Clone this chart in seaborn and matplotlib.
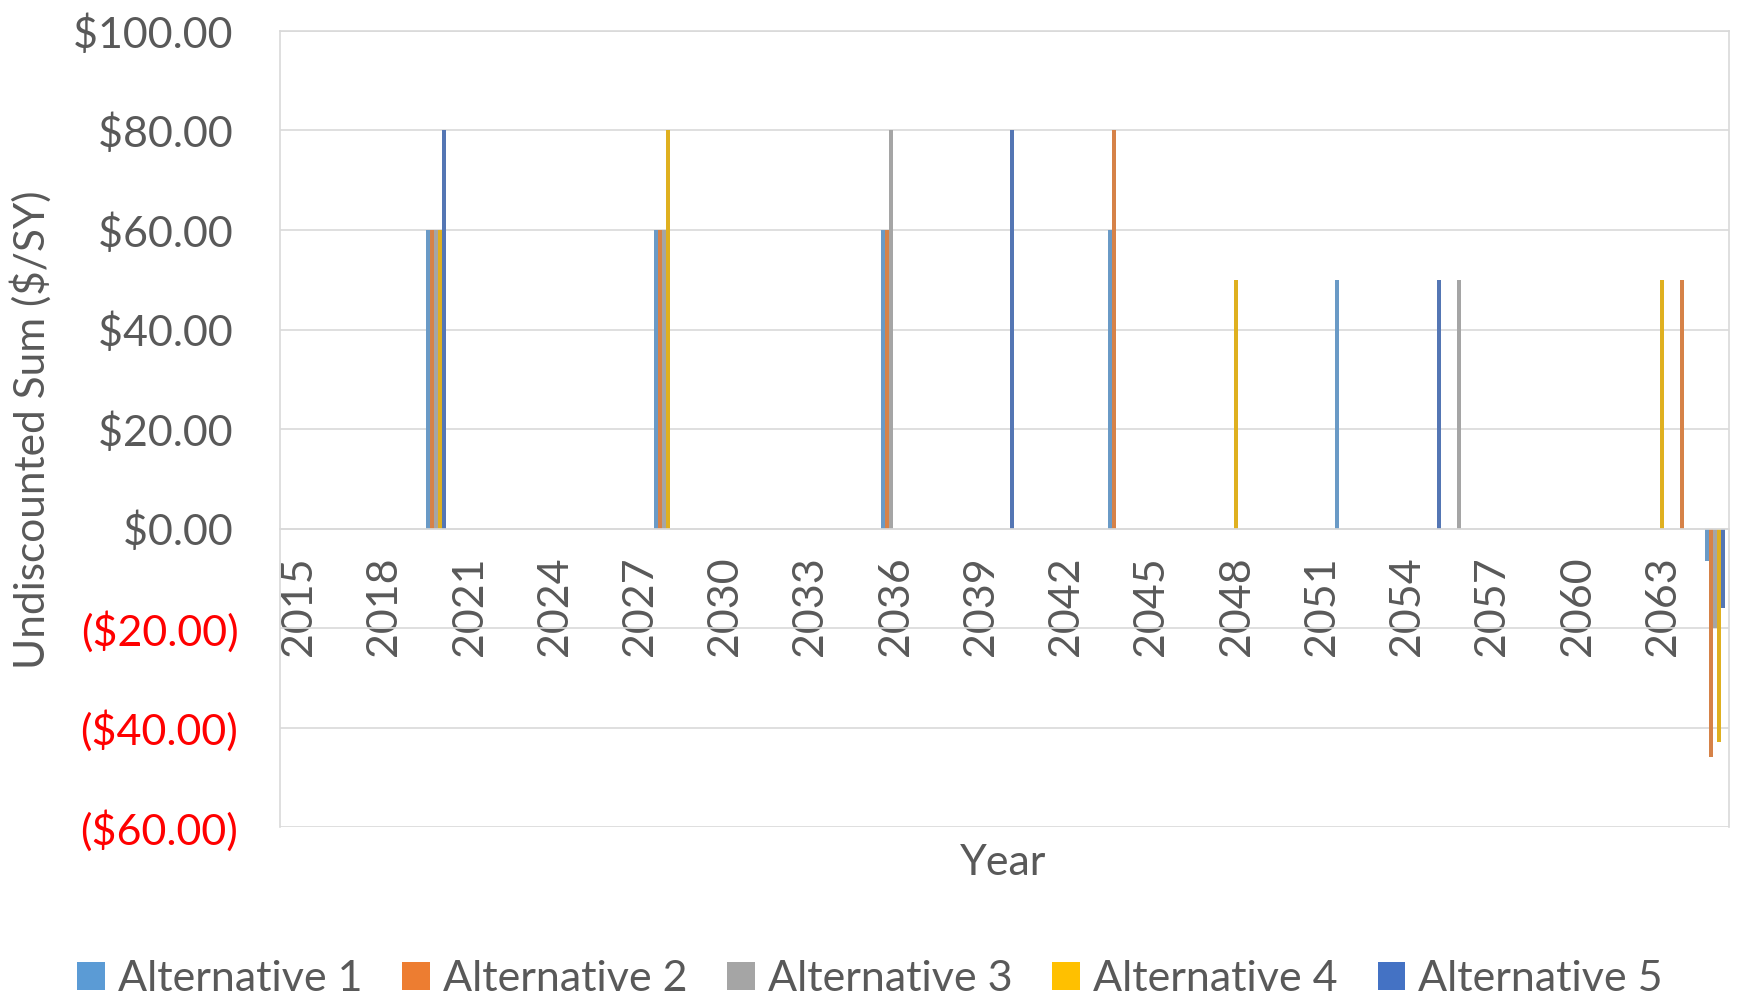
import matplotlib
matplotlib.use("Agg")
import matplotlib.pyplot as plt
from matplotlib.patches import Patch
import pandas as pd
import seaborn as sns

# Analysis period, one category per year
years = list(range(2015, 2066))
tick_years = years[::3]

series_names = ["Alternative 1", "Alternative 2", "Alternative 3",
                "Alternative 4", "Alternative 5"]
series_colors = ["#5B9BD5", "#ED7D31", "#A5A5A5", "#FFC000", "#4472C4"]

# Non-zero undiscounted costs ($/SY) per alternative
alt1_years = [2020, 2028, 2036, 2044, 2052, 2065]
alt1_values = [60, 60, 60, 60, 50, -6.5]

alt2_years = [2020, 2028, 2036, 2044, 2064, 2065]
alt2_values = [60, 60, 60, 80, 50, -46]

alt3_years = [2020, 2028, 2036, 2056, 2065]
alt3_values = [60, 60, 80, 50, -20]

alt4_years = [2020, 2028, 2048, 2063, 2065]
alt4_values = [60, 80, 50, 50, -43]

alt5_years = [2020, 2040, 2055, 2065]
alt5_values = [80, 80, 50, -16]

y_ticks = [-60, -40, -20, 0, 20, 40, 60, 80, 100]

# Long-form table: every alternative gets a value (zero if no cost) each year
sparse = [
    (alt1_years, alt1_values),
    (alt2_years, alt2_values),
    (alt3_years, alt3_values),
    (alt4_years, alt4_values),
    (alt5_years, alt5_values),
]
rows = []
for name, (yrs, vals) in zip(series_names, sparse):
    lookup = dict(zip(yrs, vals))
    for y in years:
        rows.append({"Year": y, "Series": name, "Value": lookup.get(y, 0.0)})
df = pd.DataFrame(rows)

sns.set_style("white")
plt.rcParams["font.family"] = ["Lato", "DejaVu Sans"]

TEXT = "#595959"
GRID = "#D9D9D9"
FS = 31

fig = plt.figure(figsize=(17.4, 9.96), dpi=100)
ax = fig.add_axes([280 / 1740, 1 - 827 / 996, 1449 / 1740, 796 / 996])

sns.barplot(data=df, x="Year", y="Value", hue="Series",
            order=years, hue_order=series_names, palette=series_colors,
            width=0.7, errorbar=None, linewidth=0, legend=False, ax=ax)

ax.set_xlim(-0.5, len(years) - 0.5)
ax.set_ylim(-60, 100)

# Accounting-style currency labels: negatives in parentheses and red,
# positives padded so the digits line up with the negatives
def money(v):
    return f"(${-v:,.2f})" if v < 0 else f"${v:,.2f}\u2009"

ax.set_yticks(y_ticks, labels=[money(v) for v in y_ticks])
for v, lab in zip(y_ticks, ax.get_yticklabels()):
    lab.set_color("#FF0000" if v < 0 else TEXT)

# Rotated year labels; a small offset centres the digit glyphs on the category
label_offset = 0.17
ax.set_xticks([years.index(y) + label_offset for y in tick_years],
              labels=[str(y) for y in tick_years])

ax.tick_params(axis="both", length=0, labelsize=FS)
ax.tick_params(axis="y", pad=30)
ax.tick_params(axis="x", pad=20, labelrotation=90, labelcolor=TEXT)

ax.yaxis.grid(True, color=GRID, linewidth=1.2)
ax.set_axisbelow(True)
ax.set_xlabel("")
ax.set_ylabel("")

for side in ["left", "right", "top", "bottom"]:
    ax.spines[side].set_color(GRID)
    ax.spines[side].set_linewidth(1.2)
    ax.spines[side].set_visible(True)
ax.spines["bottom"].set_position(("data", 0))

fig.text(31 / 1740, 1 - 430 / 996, "Undiscounted Sum ($/SY)", rotation=90,
         ha="center", va="center", color=TEXT, fontsize=30.5)
fig.text(1003 / 1740, 1 - 863 / 996, "Year", ha="center", va="center",
         color=TEXT, fontsize=FS)

handles = [Patch(facecolor=c, edgecolor="none") for c in series_colors]
fig.legend(handles, series_names, loc="center",
           bbox_to_anchor=(0.5, 1 - 979 / 996), ncol=5, frameon=False,
           fontsize=FS, labelcolor=TEXT, handlelength=0.64, handleheight=0.64,
           handletextpad=0.3, columnspacing=0.93, borderaxespad=0)

fig.savefig("out.png", dpi=100, facecolor="white")
